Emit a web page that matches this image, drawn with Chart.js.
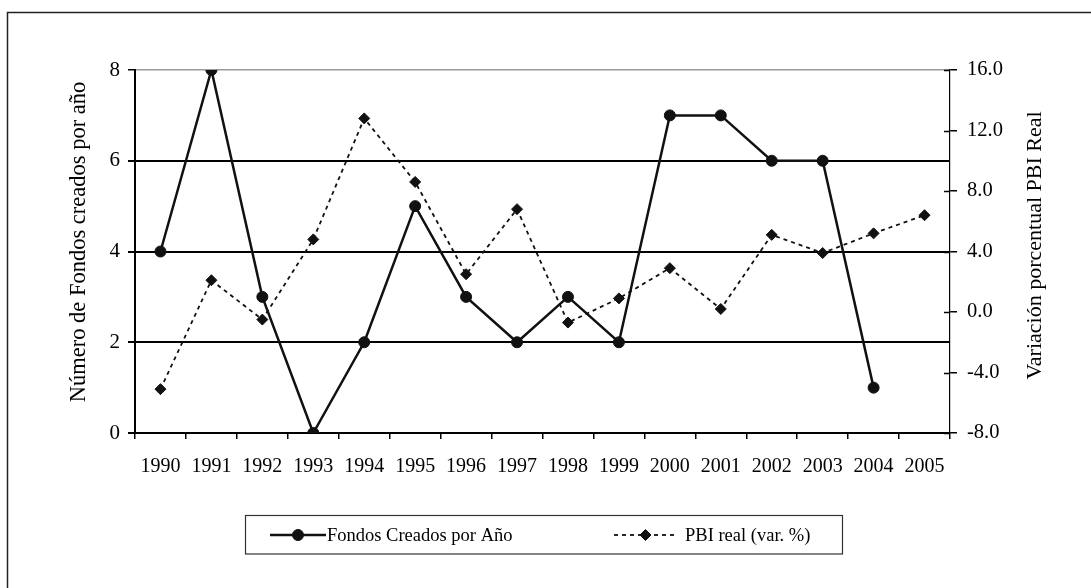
<!DOCTYPE html>
<html><head><meta charset="utf-8">
<script src="https://cdn.jsdelivr.net/npm/chart.js@4.4.0/dist/chart.umd.min.js"></script>
<style>html,body{margin:0;padding:0;background:#fff;} canvas{display:block}</style>
</head><body>
<canvas id="c" width="1091" height="588"></canvas>
<script>
const years = ['1990','1991','1992','1993','1994','1995','1996','1997','1998','1999','2000','2001','2002','2003','2004','2005'];
const fondosCreados = [4, 8, 3, 0, 2, 5, 3, 2, 3, 2, 7, 7, 6, 6, 1, null];
const pbiReal = [-5.1, 2.1, -0.5, 4.8, 12.8, 8.6, 2.5, 6.8, -0.7, 0.9, 2.9, 0.2, 5.1, 3.9, 5.2, 6.4];
const leftTicks = [0, 2, 4, 6, 8];
const rightTicks = [-8, -4, 0, 4, 8, 12, 16];
const seriesNames = ['Fondos Creados por Año', 'PBI real (var. %)'];
const leftAxisTitle = 'Número de Fondos creados por año';
const rightAxisTitle = 'Variación porcentual PBI Real';

const FONT = "'Liberation Serif', 'Times New Roman', serif";
const INK = '#111';

const decor = {
  id: 'decor',
  afterDraw(chart) {
    const ctx = chart.ctx;
    const ca = chart.chartArea;
    ctx.save();
    // outer frame (top and left visible)
    ctx.strokeStyle = '#222';
    ctx.lineWidth = 1.5;
    ctx.strokeRect(7.5, 12.5, 3000, 3000);

    // inner halves of right axis ticks
    const y1 = chart.scales.y1;
    ctx.strokeStyle = '#000';
    ctx.lineWidth = 1.5;
    y1.ticks.forEach(t => {
      const py = Math.round(y1.getPixelForValue(t.value)) + 0.5;
      ctx.beginPath();
      ctx.moveTo(ca.right - 6, py);
      ctx.lineTo(ca.right, py);
      ctx.stroke();
    });

    // axis titles
    ctx.fillStyle = '#000';
    ctx.textAlign = 'center';
    ctx.textBaseline = 'alphabetic';
    ctx.save();
    ctx.font = "22.5px " + FONT;
    ctx.translate(85, 242);
    ctx.rotate(-Math.PI / 2);
    ctx.fillText(leftAxisTitle, 0, 0);
    ctx.restore();
    ctx.save();
    ctx.font = "22px " + FONT;
    ctx.translate(1041, 245.5);
    ctx.rotate(-Math.PI / 2);
    ctx.fillText(rightAxisTitle, 0, 0);
    ctx.restore();

    // legend
    const ly = 535;
    ctx.strokeStyle = '#333';
    ctx.lineWidth = 1.2;
    ctx.strokeRect(245.5, 515.5, 597, 38.5);
    const items = [
      {ds: chart.data.datasets[0], x0: 270, x1: 326, mx: 298, tx: 327},
      {ds: chart.data.datasets[1], x0: 614, x1: 677, mx: 645.5, tx: 685}
    ];
    items.forEach(it => {
      const ds = it.ds;
      ctx.save();
      ctx.strokeStyle = ds.borderColor;
      ctx.lineWidth = ds.borderWidth;
      ctx.setLineDash(ds.borderDash || []);
      ctx.beginPath();
      ctx.moveTo(it.x0, ly);
      ctx.lineTo(it.x1, ly);
      ctx.stroke();
      ctx.setLineDash([]);
      ctx.fillStyle = ds.pointBackgroundColor;
      ctx.strokeStyle = ds.pointBorderColor;
      ctx.lineWidth = 1;
      Chart.helpers.drawPoint(ctx, {pointStyle: ds.pointStyle, radius: ds.pointRadius, borderWidth: 1, rotation: 0}, it.mx, ly);
      ctx.restore();
      ctx.fillStyle = '#000';
      ctx.font = "18.5px " + FONT;
      ctx.textAlign = 'left';
      ctx.textBaseline = 'middle';
      ctx.fillText(ds.label, it.tx, ly + 1);
    });
    ctx.restore();
  }
};

new Chart(document.getElementById('c'), {
  type: 'line',
  data: {
    labels: years,
    datasets: [
      {
        label: seriesNames[0],
        data: fondosCreados,
        yAxisID: 'y',
        borderColor: INK,
        borderWidth: 2.5,
        pointStyle: 'circle',
        pointRadius: 5.5,
        pointBackgroundColor: INK,
        pointBorderColor: INK,
        pointBorderWidth: 1,
        tension: 0,
        spanGaps: false,
        order: 1
      },
      {
        label: seriesNames[1],
        data: pbiReal,
        yAxisID: 'y1',
        borderColor: INK,
        borderWidth: 1.8,
        borderDash: [4, 4],
        pointStyle: 'rectRot',
        pointRadius: 5.5,
        pointBackgroundColor: INK,
        pointBorderColor: INK,
        pointBorderWidth: 1,
        tension: 0,
        order: 2
      }
    ]
  },
  options: {
    responsive: false,
    animation: false,
    devicePixelRatio: 1,
    layout: {padding: {top: 70, bottom: 105, left: 0, right: 0}},
    plugins: {legend: {display: false}, tooltip: {enabled: false}, title: {display: false}},
    scales: {
      x: {
        type: 'category',
        offset: true,
        afterFit(s) { s.height = 50; },
        grid: {offset: true, drawOnChartArea: false, drawTicks: true, tickLength: 6, color: '#000', lineWidth: 1.5},
        border: {display: true, color: '#000', width: 2},
        ticks: {color: '#000', font: {family: FONT, size: 20}, padding: 16, maxRotation: 0, autoSkip: false}
      },
      y: {
        position: 'left',
        min: 0, max: 8,
        afterFit(s) { s.width = 135; },
        afterBuildTicks(s) { s.ticks = leftTicks.map(v => ({value: v})); },
        grid: {
          color: c => (c.tick && c.tick.value === 8) ? '#9a9a9a' : '#000',
          lineWidth: c => (c.tick && c.tick.value === 8) ? 1.5 : 2,
          tickColor: '#000', tickLength: 7, drawTicks: true
        },
        border: {display: true, color: '#000', width: 2},
        ticks: {color: '#000', font: {family: FONT, size: 21}, padding: 8}
      },
      y1: {
        position: 'right',
        min: -8, max: 16,
        afterFit(s) { s.width = 141; },
        afterBuildTicks(s) { s.ticks = rightTicks.map(v => ({value: v})); },
        grid: {drawOnChartArea: false, color: '#000', lineWidth: 1.5, tickLength: 7},
        border: {display: true, color: '#000', width: 1.2},
        ticks: {color: '#000', font: {family: FONT, size: 20.5}, padding: 10, callback: v => Number(v).toFixed(1)}
      }
    }
  },
  plugins: [decor]
});
</script>
</body></html>
